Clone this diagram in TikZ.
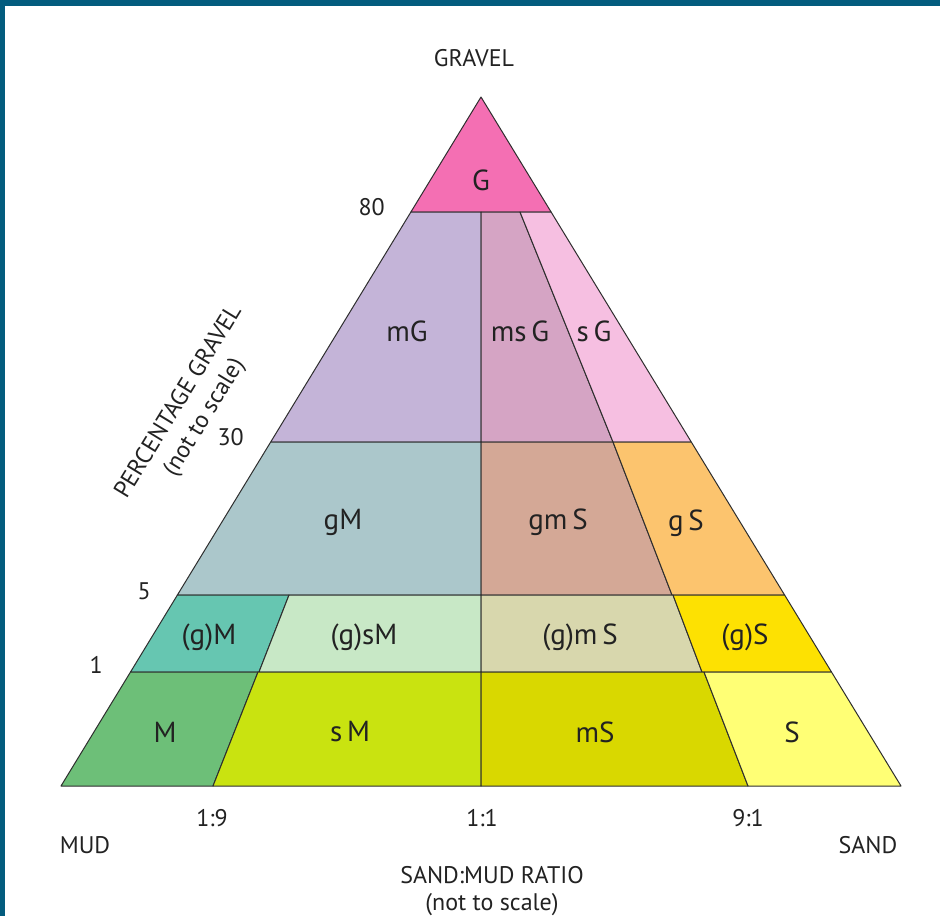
\documentclass[tikz,border=0pt]{standalone}
\usepackage{fontspec}
\setmainfont{PT Sans}
\definecolor{frameC}{HTML}{035C7E}
\definecolor{txtC}{HTML}{222222}
\definecolor{lineC}{HTML}{2E2E2E}
\definecolor{cG}{HTML}{F46FB3}
\definecolor{cmG}{HTML}{C4B4D8}
\definecolor{cmsG}{HTML}{D5A4C4}
\definecolor{csG}{HTML}{F6BFE1}
\definecolor{cgM}{HTML}{ABC7CB}
\definecolor{cgmS}{HTML}{D4A896}
\definecolor{cgS}{HTML}{FCC46E}
\definecolor{cpgM}{HTML}{66C6B1}
\definecolor{cpgsM}{HTML}{C8E8C6}
\definecolor{cpgmS}{HTML}{D8D7AD}
\definecolor{cpgS}{HTML}{FDE102}
\definecolor{cM}{HTML}{6DBF78}
\definecolor{csM}{HTML}{C9E310}
\definecolor{cmS}{HTML}{D9D800}
\definecolor{cS}{HTML}{FFFF75}
\tikzset{
  region/.style={draw=lineC, line width=1pt, line join=round},
  lab/.style={text=txtC, font=\fontsize{29}{32}\selectfont, inner sep=0pt},
  axlab/.style={text=txtC, font=\fontsize{24}{28}\selectfont, inner sep=0pt},
  ticklab/.style={text=txtC, font=\fontsize{24}{28}\selectfont, inner sep=0pt, anchor=east},
}
\begin{document}
\begin{tikzpicture}[x=1pt,y=-1pt]
\fill[white] (0,0) rectangle (940,916);
\useasboundingbox (0,0) rectangle (940,916);
\fill[frameC] (0,0) rectangle (940,6);
\fill[frameC] (0,0) rectangle (5,916);
% regions
\filldraw[region, fill=cG] (481,97) -- (410.9,212) -- (551.1,212) -- cycle;
\filldraw[region, fill=cmG] (410.9,212) -- (481,212) -- (481,442) -- (270.7,442) -- cycle;
\filldraw[region, fill=cmsG] (481,212) -- (520,212) -- (613,442) -- (481,442) -- cycle;
\filldraw[region, fill=csG] (520,212) -- (551.1,212) -- (691.3,442) -- (613,442) -- cycle;
\filldraw[region, fill=cgM] (270.7,442) -- (481,442) -- (481,595) -- (177.4,595) -- cycle;
\filldraw[region, fill=cgmS] (481,442) -- (613,442) -- (672,595) -- (481,595) -- cycle;
\filldraw[region, fill=cgS] (613,442) -- (691.3,442) -- (784.6,595) -- (672,595) -- cycle;
\filldraw[region, fill=cpgM] (177.4,595) -- (289,595) -- (259,672) -- (130.5,672) -- cycle;
\filldraw[region, fill=cpgsM] (289,595) -- (481,595) -- (481,672) -- (259,672) -- cycle;
\filldraw[region, fill=cpgmS] (481,595) -- (673,595) -- (702,672) -- (481,672) -- cycle;
\filldraw[region, fill=cpgS] (673,595) -- (784.6,595) -- (831.5,672) -- (702,672) -- cycle;
\filldraw[region, fill=cM] (130.5,672) -- (258,672) -- (213,786) -- (61,786) -- cycle;
\filldraw[region, fill=csM] (258,672) -- (481,672) -- (481,786) -- (213,786) -- cycle;
\filldraw[region, fill=cmS] (481,672) -- (704,672) -- (748,786) -- (481,786) -- cycle;
\filldraw[region, fill=cS] (704,672) -- (831.5,672) -- (901,786) -- (748,786) -- cycle;
% region labels
\node[lab] (lG) at (481,180) {G};
\node[lab] (lmG) at (407,331) {mG};
\node[lab] (lmsG) at (520,331) {ms\,G};
\node[lab] (lsG) at (594,331) {s\,G};
\node[lab] (lgM) at (343,522) {gM};
\node[lab] (lgmS) at (558,522) {gm\,S};
\node[lab] (lgS) at (686,523) {g\,S};
\node[lab] (lpgM) at (209,637) {(g)M};
\node[lab] (lpgsM) at (364,637) {(g)sM};
\node[lab] (lpgmS) at (580,637) {(g)m\,S};
\node[lab] (lpgS) at (745,637) {(g)S};
\node[lab] (lM) at (165,732) {M};
\node[lab] (lsM) at (350,732) {s\,M};
\node[lab] (lmS) at (595,732) {mS};
\node[lab] (lS) at (792,732) {S};
% axis labels
\node[axlab] (gravel) at (474,58) {GRAVEL};
\node[ticklab] (t80) at (385,207) {80};
\node[ticklab] (t30) at (244,437) {30};
\node[ticklab] (t5) at (151,591) {5};
\node[ticklab] (t1) at (103,665) {1};
\node[axlab, rotate=58.6, align=center, font=\fontsize{24}{30}\selectfont] (pg) at (192,410) {PERCENTAGE GRAVEL\\(not to scale)};
\node[axlab] (r19) at (212,818) {1:9};
\node[axlab] (r11) at (482,818) {1:1};
\node[axlab] (r91) at (748,818) {9:1};
\node[axlab] (mud) at (85,845) {MUD};
\node[axlab] (sand) at (868,845) {SAND};
\node[axlab] (ratio) at (492,875) {SAND:MUD RATIO};
\node[axlab] (nts) at (492,905) {(not to scale)};
\end{tikzpicture}
\end{document}
